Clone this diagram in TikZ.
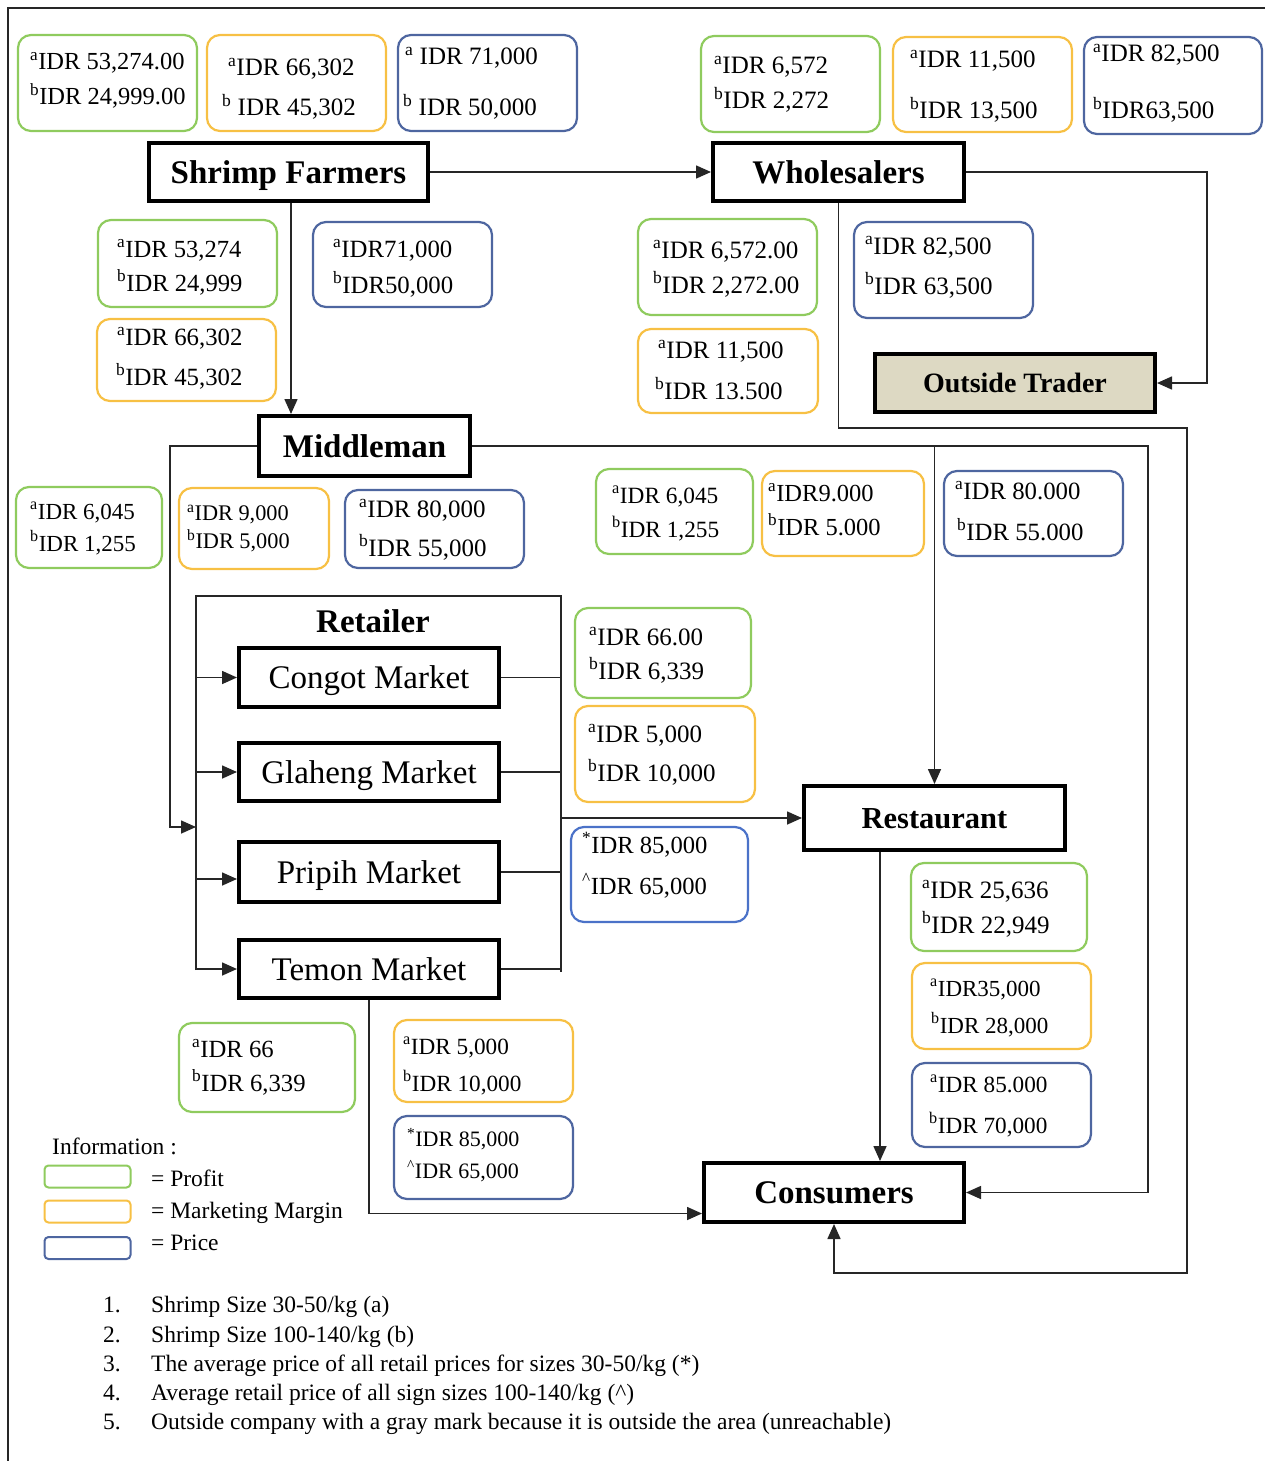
\documentclass[tikz,border=0pt]{standalone}
\usepackage{fontspec}
\setmainfont{Liberation Serif}
\usetikzlibrary{arrows.meta,calc}

\definecolor{profitgreen}{HTML}{8FCB5E}
\definecolor{margingold}{HTML}{F7C044}
\definecolor{priceblue}{HTML}{4E66A0}
\definecolor{brightblue}{HTML}{4B72C8}
\definecolor{tradertan}{HTML}{DDD9C3}
\definecolor{linkgray}{HTML}{262626}

\newcommand\ua{\textsuperscript{a}}
\newcommand\ub{\textsuperscript{b}}
\newcommand\ust{\textsuperscript{*}}
\newcommand\uc{\textsuperscript{\textasciicircum}}

% rounded price box: name, colour, left, top, right, bottom
\newcommand\pbx[6]{\node[pbox, draw=#2, minimum width={#5-#3-2}, minimum height={#6-#4-2}] (#1) at ({(#3+#5)/2},{(#4+#6)/2}) {};}
% one text line: name, x, baseline y, size, text
\newcommand\ptl[5]{\node[ptxt, font=\fontsize{#4}{#4}\selectfont] (#1) at (#2,#3) {#5};}

\tikzset{
  pbox/.style={rounded corners=13pt, line width=2.2pt, inner sep=0pt},
  ptxt/.style={anchor=base west, inner sep=0pt},
  actor/.style={draw=black, line width=4pt, inner sep=0pt, text height=26pt, text depth=4pt,
    font=\fontsize{33}{33}\selectfont\bfseries},
  market/.style={draw=black, line width=4pt, inner sep=0pt, text height=26pt, text depth=4pt,
    font=\fontsize{33}{33}\selectfont},
  link/.style={line width=1.6pt, draw=linkgray},
  arr/.style={link, -{Triangle[length=15pt,width=13pt]}},
  legbox/.style={rounded corners=4pt, line width=2pt, minimum width=86pt, minimum height=22pt, inner sep=0pt},
  note/.style={anchor=base west, inner sep=0pt, font=\fontsize{23.5}{23.5}\selectfont},
}

\begin{document}
\begin{tikzpicture}[x=1pt, y=-1pt]
\useasboundingbox (0,0) rectangle (1265,1461);

% frame
\draw[line width=2pt, draw=black!85] (8,1461) -- (8,8) -- (1265,8);

% actors
\node[actor, minimum width=279pt, minimum height=58pt] (sf) at (288.5,172) {Shrimp Farmers};
\node[actor, minimum width=251pt, minimum height=58pt] (w) at (838.5,172) {Wholesalers};
\node[actor, fill=tradertan, minimum width=280pt, minimum height=58pt, text height=23pt, text depth=4pt,
  font=\fontsize{28}{28}\selectfont\bfseries] (ot) at (1015,383) {Outside Trader};
\node[actor, minimum width=211pt, minimum height=60pt] (mid) at (364.5,446) {Middleman};
\node[inner sep=0pt, text height=26pt, text depth=4pt, font=\fontsize{33}{33}\selectfont\bfseries] (retail) at (373,621) {Retailer};
\node[market, minimum width=260pt, minimum height=59pt] (congot) at (369,677.5) {Congot Market};
\node[market, minimum width=260pt, minimum height=58pt] (glaheng) at (369,772) {Glaheng Market};
\node[market, minimum width=260pt, minimum height=60pt] (pripih) at (369,872) {Pripih Market};
\node[market, minimum width=260pt, minimum height=58pt] (temon) at (369,969) {Temon Market};
\node[actor, minimum width=261pt, minimum height=64pt, text height=24pt, text depth=4pt,
  font=\fontsize{30.5}{30.5}\selectfont\bfseries] (rest) at (934.5,818) {Restaurant};
\node[actor, minimum width=260pt, minimum height=59pt] (cons) at (834,1192.5) {Consumers};

% helper points of the routing
\coordinate (fm) at (291,0);
\coordinate (wo) at (1207,172);
\coordinate (lpA) at (1187,428);
\coordinate (lpB) at (1187,1273);
\coordinate (ml) at (170,827);
\coordinate (rin) at (196,827);
\coordinate (rtl) at (196,970);
\coordinate (rtr) at (561,596);
\coordinate (rtb) at (561,972);
\coordinate (mr) at (1148,446);
\coordinate (rc) at (880,0);

% connectors
\draw[arr] (sf.east) -- (w.west);
\draw[arr] (w.east) -- (wo) |- (ot.east);
\draw[arr] (sf.south -| fm) -- (mid.north -| fm);
\draw[arr] (w.south) |- (lpA) -- (lpB) -| (cons.south);
\draw[arr] (mid.west) -| (ml) -- (rin);
\draw[arr] (mid.east) -- (mr) |- (cons.east);
\draw[arr] (rest.north |- mid.east) -- (rest.north);
\draw[arr] (rest.south -| rc) -- (cons.north -| rc);
\draw[arr] (temon.south) |- ([yshift=-21pt]cons.west);

% retailer group
\draw[link] (rtl) |- (rtr) -- (rtb);
\draw[arr] (congot.west -| rtl) -- (congot.west);
\draw[arr] (glaheng.west -| rtl) -- (glaheng.west);
\draw[arr] ([yshift=-7pt]pripih.west -| rtl) -- ([yshift=-7pt]pripih.west);
\draw[arr] (temon.west -| rtl) -- (temon.west);
\draw[link] (congot.east) -- (congot.east -| rtb);
\draw[link] (glaheng.east) -- (glaheng.east -| rtb);
\draw[link] (pripih.east) -- (pripih.east -| rtb);
\draw[link] (temon.east) -- (temon.east -| rtb);
\draw[arr] (rest.west -| rtb) -- (rest.west);

% price boxes: farmers
\pbx{g1}{profitgreen}{17}{34}{198}{132}
\ptl{g1a}{30}{70}{24.5}{\ua IDR 53,274.00}
\ptl{g1b}{30}{105}{24.5}{\ub IDR 24,999.00}
\pbx{o1}{margingold}{206}{34}{387}{132}
\ptl{o1a}{228}{76}{25}{\ua IDR 66,302}
\ptl{o1b}{222}{116}{25}{\ub{} IDR 45,302}
\pbx{b1}{priceblue}{397}{34}{578}{132}
\ptl{b1a}{405}{65}{25}{\ua{} IDR 71,000}
\ptl{b1b}{403}{116}{25}{\ub{} IDR 50,000}

% price boxes: wholesalers
\pbx{g2}{profitgreen}{700}{35}{881}{133}
\ptl{g2a}{714}{74}{25}{\ua IDR 6,572}
\ptl{g2b}{714}{109}{25}{\ub IDR 2,272}
\pbx{o2}{margingold}{892}{36}{1073}{133}
\ptl{o2a}{910}{68}{25}{\ua IDR 11,500}
\ptl{o2b}{910}{119}{25}{\ub IDR 13,500}
\pbx{b2}{priceblue}{1083}{36}{1263}{135}
\ptl{b2a}{1093}{62}{25}{\ua IDR 82,500}
\ptl{b2b}{1093}{119}{25}{\ub IDR63,500}

% farmers to middleman
\pbx{g3}{profitgreen}{97}{219}{278}{308}
\ptl{g3a}{117}{257}{24.6}{\ua IDR 53,274}
\ptl{g3b}{117}{291}{24.6}{\ub IDR 24,999}
\pbx{b3}{priceblue}{312}{221}{493}{308}
\ptl{b3a}{333}{257}{24.8}{\ua IDR71,000}
\ptl{b3b}{333}{293}{24.8}{\ub IDR50,000}
\pbx{o3}{margingold}{96}{318}{277}{402}
\ptl{o3a}{117}{345}{24.8}{\ua IDR 66,302}
\ptl{o3b}{116}{385}{24.8}{\ub IDR 45,302}

% wholesalers to outside trader
\pbx{g4}{profitgreen}{637}{218}{818}{316}
\ptl{g4a}{653}{258}{25}{\ua IDR 6,572.00}
\ptl{g4b}{653}{293}{25}{\ub IDR 2,272.00}
\pbx{o4}{margingold}{637}{328}{819}{414}
\ptl{o4a}{658}{358}{25}{\ua IDR 11,500}
\ptl{o4b}{655}{399}{25}{\ub IDR 13.500}
\pbx{b4}{priceblue}{853}{221}{1034}{319}
\ptl{b4a}{865}{254}{25}{\ua IDR 82,500}
\ptl{b4b}{865}{294}{25}{\ub IDR 63,500}

% middleman to retailers
\pbx{g5}{profitgreen}{15}{486}{163}{569}
\ptl{g5a}{30}{519}{23}{\ua IDR 6,045}
\ptl{g5b}{30}{551}{23}{\ub IDR 1,255}
\pbx{o5}{margingold}{178}{487}{330}{570}
\ptl{o5a}{187}{520}{22.3}{\ua IDR 9,000}
\ptl{o5b}{187}{548}{22.3}{\ub IDR 5,000}
\pbx{b5}{priceblue}{344}{489}{525}{569}
\ptl{b5a}{359}{517}{25}{\ua IDR 80,000}
\ptl{b5b}{359}{556}{25}{\ub IDR 55,000}

% middleman to restaurant
\pbx{g6}{profitgreen}{595}{468}{754}{555}
\ptl{g6a}{612}{503}{23.3}{\ua IDR 6,045}
\ptl{g6b}{612}{537}{23.3}{\ub IDR 1,255}
\pbx{o6}{margingold}{761}{470}{925}{557}
\ptl{o6a}{768}{501}{24.5}{\ua IDR9.000}
\ptl{o6b}{768}{535}{24.5}{\ub IDR 5.000}
\pbx{b6}{priceblue}{943}{470}{1124}{557}
\ptl{b6a}{955}{499}{24.8}{\ua IDR 80.000}
\ptl{b6b}{957}{540}{24.8}{\ub IDR 55.000}

% retailers to restaurant
\pbx{g7}{profitgreen}{574}{607}{752}{699}
\ptl{g7a}{589}{645}{25}{\ua IDR 66.00}
\ptl{g7b}{589}{679}{25}{\ub IDR 6,339}
\pbx{o7}{margingold}{574}{705}{756}{803}
\ptl{o7a}{588}{742}{25}{\ua IDR 5,000}
\ptl{o7b}{588}{781}{25}{\ub IDR 10,000}
\pbx{b7}{brightblue}{570}{826}{749}{923}
\ptl{b7a}{582}{853}{24.6}{\ust IDR 85,000}
\ptl{b7b}{582}{894}{24.6}{\uc IDR 65,000}

% restaurant to consumers
\pbx{g8}{profitgreen}{910}{862}{1088}{952}
\ptl{g8a}{922}{898}{25}{\ua IDR 25,636}
\ptl{g8b}{922}{933}{25}{\ub IDR 22,949}
\pbx{o8}{margingold}{911}{962}{1092}{1050}
\ptl{o8a}{930}{996}{23}{\ua IDR35,000}
\ptl{o8b}{931}{1033}{23}{\ub IDR 28,000}
\pbx{b8}{priceblue}{911}{1062}{1092}{1148}
\ptl{b8a}{930}{1092}{23.2}{\ua IDR 85.000}
\ptl{b8b}{929}{1133}{23.2}{\ub IDR 70,000}

% retailers to consumers
\pbx{g9}{profitgreen}{178}{1022}{356}{1113}
\ptl{g9a}{192}{1057}{24.7}{\ua IDR 66}
\ptl{g9b}{192}{1091}{24.7}{\ub IDR 6,339}
\pbx{o9}{margingold}{393}{1019}{574}{1103}
\ptl{o9a}{403}{1054}{23.2}{\ua IDR 5,000}
\ptl{o9b}{403}{1091}{23.2}{\ub IDR 10,000}
\pbx{b9}{priceblue}{393}{1115}{574}{1200}
\ptl{b9a}{407}{1146}{22}{\ust IDR 85,000}
\ptl{b9b}{407}{1178}{22}{\uc IDR 65,000}

% legend
\node[note] (info) at (52,1154) {Information :};
\node[legbox, draw=profitgreen] (lg) at (87.5,1176.5) {};
\node[legbox, draw=margingold] (lo) at (87.5,1211.5) {};
\node[legbox, draw=priceblue] (lb) at (87.5,1248) {};
\node[note] (lgt) at (151,1186) {= Profit};
\node[note] (lot) at (151,1218) {= Marketing Margin};
\node[note] (lbt) at (151,1250) {= Price};

% footnotes
\node[note] (n1) at (103,1312) {1.};
\node[note] (t1) at (151,1312) {Shrimp Size 30-50/kg (a)};
\node[note] (n2) at (103,1342) {2.};
\node[note] (t2) at (151,1342) {Shrimp Size 100-140/kg (b)};
\node[note] (n3) at (103,1371) {3.};
\node[note] (t3) at (151,1371) {The average price of all retail prices for sizes 30-50/kg (*)};
\node[note] (n4) at (103,1400) {4.};
\node[note] (t4) at (151,1400) {Average retail price of all sign sizes 100-140/kg (\textasciicircum)};
\node[note] (n5) at (103,1429) {5.};
\node[note] (t5) at (151,1429) {Outside company with a gray mark because it is outside the area (unreachable)};
\end{tikzpicture}
\end{document}
